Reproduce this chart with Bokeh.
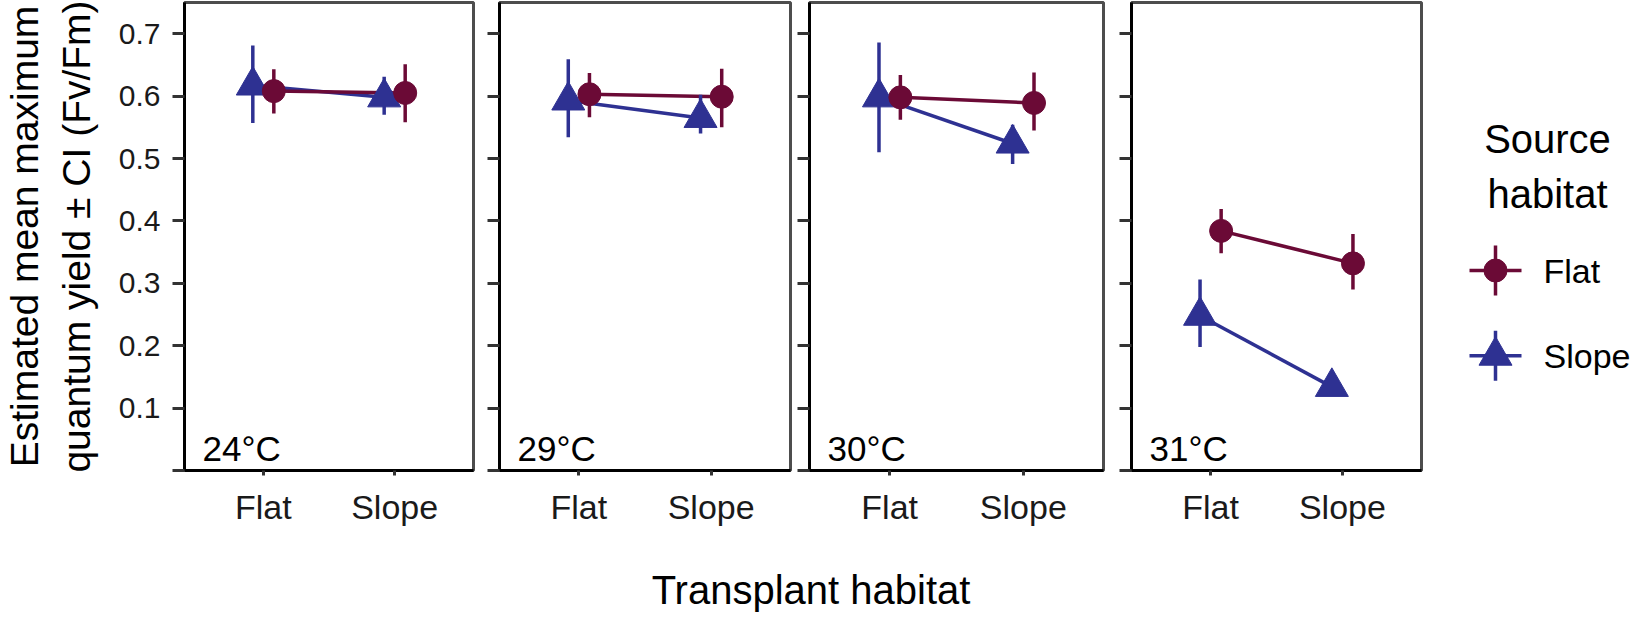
from bokeh.plotting import figure
from bokeh.layouts import row, column
from bokeh.models import Range1d, FixedTicker, Label, ColumnDataSource
from bokeh.embed import file_html
from bokeh.resources import INLINE
from bokeh.core.properties import value

# ---------------- data ----------------
temps = ["24", "29", "30", "31"]            # temperature panels (degC)
transplant = ["Flat", "Slope"]              # x categories (transplant habitat)
sources = ["Flat", "Slope"]                 # series (source habitat)

# estimated mean Fv/Fm per panel, [at Flat, at Slope]
mean_flat = [[0.608, 0.605], [0.603, 0.599], [0.598, 0.589], [0.384, 0.332]]
lo_flat   = [[0.572, 0.558], [0.566, 0.550], [0.562, 0.545], [0.348, 0.290]]
hi_flat   = [[0.643, 0.651], [0.637, 0.644], [0.634, 0.638], [0.419, 0.379]]

mean_slope = [[0.617, 0.598], [0.593, 0.565], [0.598, 0.524], [0.248, 0.134]]
lo_slope   = [[0.557, 0.570], [0.534, 0.540], [0.510, 0.491], [0.198, 0.122]]
hi_slope   = [[0.681, 0.631], [0.659, 0.602], [0.686, 0.554], [0.306, 0.146]]

y_ticks = [0.0, 0.1, 0.2, 0.3, 0.4, 0.5, 0.6, 0.7]
y_tick_labels = ["", "0.1", "0.2", "0.3", "0.4", "0.5", "0.6", "0.7"]

series = {
    "Flat": (mean_flat, lo_flat, hi_flat),
    "Slope": (mean_slope, lo_slope, hi_slope),
}

# ---------------- styles ----------------
FONT = "Liberation Sans"
colors = {"Flat": "#6b0a36", "Slope": "#2e3192"}
markers = {"Flat": "circle", "Slope": "triangle"}
msize = {"Flat": 23, "Slope": 33}
dodge = {"Flat": 0.08, "Slope": -0.08}
draw_order = ["Slope", "Flat"]
LW = 3.5

H = 530
YR = (0, 0.75)
BT, BB = 2, 60
frame_left = [184, 499, 809, 1131]
frame_w = [289, 291, 294, 290]
TOTAL_W = 1632

panels = []
start = 0
for i, t in enumerate(temps):
    lb = frame_left[i] - start
    w = lb + frame_w[i] + 2
    start += w
    p = figure(width=w, height=H, x_range=Range1d(0.4, 2.6), y_range=Range1d(*YR),
               output_backend="svg", toolbar_location=None, title=None,
               min_border_left=lb, min_border_right=2, min_border_top=BT, min_border_bottom=BB)
    p.grid.visible = False
    p.background_fill_color = "white"
    p.border_fill_color = "white"
    p.outline_line_color = "#4d4d4d"
    p.outline_line_width = 3
    p.outline_line_alpha = 1.0

    xa = p.xaxis[0]
    xa.ticker = FixedTicker(ticks=[k + 1 for k in range(len(transplant))])
    xa.major_label_overrides = {k + 1: lab for k, lab in enumerate(transplant)}
    xa.major_tick_out = 5
    xa.major_tick_in = 0
    xa.minor_tick_out = 0
    xa.minor_tick_in = 0
    xa.axis_line_color = "black"
    xa.axis_line_width = 3
    xa.major_tick_line_color = "#333333"
    xa.major_tick_line_width = 3
    xa.major_label_text_font = FONT
    xa.major_label_text_font_size = "34px"
    xa.major_label_text_color = "#1a1a1a"
    xa.major_label_standoff = 12

    ya = p.yaxis[0]
    ya.ticker = FixedTicker(ticks=y_ticks)
    ya.major_tick_out = 12
    ya.major_tick_in = 0
    ya.minor_tick_out = 0
    ya.minor_tick_in = 0
    ya.axis_line_color = "black"
    ya.axis_line_width = 3
    ya.major_tick_line_color = "#333333"
    ya.major_tick_line_width = 3
    ya.major_label_text_font = FONT
    ya.major_label_text_font_size = "30px"
    if i == 0:
        ya.major_label_overrides = dict(zip(y_ticks, y_tick_labels))
        ya.major_label_text_color = "#1a1a1a"
        ya.major_label_standoff = 12
        ya.axis_label = "Estimated mean maximum\nquantum yield \u00b1 CI (Fv/Fm)"
        ya.axis_label_text_font = FONT
        ya.axis_label_text_font_size = "39px"
        ya.axis_label_text_font_style = "normal"
        ya.axis_label_text_color = "black"
        ya.axis_label_standoff = 18
    else:
        # shared y scale: ticks only, no labels
        ya.major_label_overrides = {tk: "" for tk in y_ticks}
        ya.major_label_text_alpha = 0
        ya.major_label_text_color = None
        ya.major_label_standoff = 0

    srcs = {}
    for s in sources:
        m, lo, hi = series[s]
        xs = [k + 1 + dodge[s] for k in range(len(transplant))]
        srcs[s] = ColumnDataSource(dict(x=xs, y=m[i], lo=lo[i], hi=hi[i]))
    for s in draw_order:
        p.line("x", "y", source=srcs[s], line_color=colors[s], line_width=LW)
    for s in draw_order:
        p.segment(x0="x", y0="lo", x1="x", y1="hi", source=srcs[s],
                  line_color=colors[s], line_width=LW)
    for s in draw_order:
        p.scatter("x", "y", source=srcs[s], marker=markers[s], size=msize[s],
                  fill_color=colors[s], line_color=colors[s], line_width=1)

    p.add_layout(Label(x=18, y=22, x_units="screen", y_units="screen",
                       text=f"{t}\u00b0C", text_font=FONT, text_font_size="35px",
                       text_color="black", text_baseline="alphabetic"))
    panels.append(p)

# ---------------- legend (same vertical scale as the panels) ----------------
LGW = TOTAL_W - start
lg = figure(width=LGW, height=H, x_range=Range1d(0, LGW), y_range=Range1d(*YR),
            output_backend="svg", toolbar_location=None, title=None,
            x_axis_location=None, y_axis_location=None,
            min_border_left=0, min_border_right=0, min_border_top=BT, min_border_bottom=BB)
lg.grid.visible = False
lg.outline_line_color = None
lg.background_fill_color = "white"
lg.border_fill_color = "white"
px_per_unit = (H - BT - BB) / (YR[1] - YR[0])
lg.text(x=[124], y=[0.567], text=["Source\nhabitat"], text_font=value(FONT),
        text_font_size="40px", text_align="center", text_baseline="top",
        text_line_height=1.25, text_color="black")
cx = 72
row_y = [0.3205, 0.184]
for k, s in enumerate(sources):
    yc = row_y[k]
    lg.segment(x0=[cx - 26], y0=[yc], x1=[cx + 26], y1=[yc], line_color=colors[s], line_width=LW)
    lg.segment(x0=[cx], y0=[yc - 25 / px_per_unit], x1=[cx], y1=[yc + 25 / px_per_unit],
               line_color=colors[s], line_width=LW)
    lg.scatter(x=[cx], y=[yc], marker=markers[s], size=msize[s],
               fill_color=colors[s], line_color=colors[s])
    lg.text(x=[120], y=[yc], text=[s], text_font=value(FONT), text_font_size="34px",
            text_align="left", text_baseline="middle", text_color="black")

# ---------------- x axis title ----------------
TH = 84
tf = figure(width=TOTAL_W, height=TH, x_range=Range1d(0, TOTAL_W), y_range=Range1d(0, TH),
            output_backend="svg", toolbar_location=None, title=None,
            x_axis_location=None, y_axis_location=None,
            min_border_left=0, min_border_right=0, min_border_top=0, min_border_bottom=0)
tf.grid.visible = False
tf.outline_line_color = None
tf.text(x=[(frame_left[0] + frame_left[-1] + frame_w[-1]) / 2 + 8], y=[25],
        text=["Transplant habitat"], text_font=value(FONT), text_font_size="40px",
        text_align="center", text_baseline="middle", text_color="black")

layout = column(row(*panels, lg), tf)
open("out.html", "w").write(file_html(layout, INLINE))
